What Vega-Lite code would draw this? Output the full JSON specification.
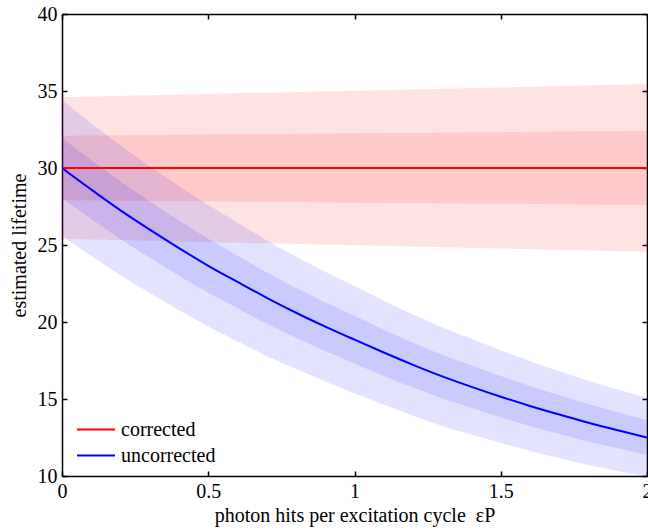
{
  "$schema": "https://vega.github.io/schema/vega-lite/v6.json",
  "width": 585,
  "height": 462,
  "autosize": {"type": "none"},
  "padding": {"left": 62, "top": 14, "right": 1, "bottom": 55},
  "background": "white",
  "config": {
    "font": "Liberation Serif, Times New Roman, serif",
    "view": {"stroke": null},
    "axis": {
      "grid": false,
      "domainColor": "black",
      "tickColor": "black",
      "labelColor": "black",
      "titleColor": "black",
      "labelFont": "Liberation Serif, Times New Roman, serif",
      "titleFont": "Liberation Serif, Times New Roman, serif",
      "labelFontSize": 20,
      "titleFontSize": 20,
      "titleFontWeight": "normal",
      "tickSize": -5,
      "domainWidth": 1.5,
      "tickWidth": 1.5,
      "labelFlush": false,
      "labelOverlap": false
    },
    "legend": {
      "labelFont": "Liberation Serif, Times New Roman, serif",
      "labelFontSize": 20,
      "labelColor": "black"
    }
  },
  "datasets": {
    "curves": [
      {"series": "corrected", "p": 0, "tau": 30, "lo1": 27.9, "hi1": 32.1, "lo2": 25.4, "hi2": 34.6},
      {"series": "corrected", "p": 1, "tau": 30, "lo1": 27.75, "hi1": 32.26, "lo2": 24.98, "hi2": 35.02},
      {"series": "corrected", "p": 2, "tau": 30, "lo1": 27.6, "hi1": 32.42, "lo2": 24.56, "hi2": 35.45},
      {"series": "uncorrected", "p": 0, "tau": 30, "lo1": 28.05, "hi1": 31.95, "lo2": 25.6, "hi2": 34.4},
      {"series": "uncorrected", "p": 0.1, "tau": 28.6, "lo1": 26.69, "hi1": 30.51, "lo2": 24.29, "hi2": 32.91},
      {"series": "uncorrected", "p": 0.2, "tau": 27.25, "lo1": 25.38, "hi1": 29.12, "lo2": 23.03, "hi2": 31.47},
      {"series": "uncorrected", "p": 0.3, "tau": 26.0, "lo1": 24.17, "hi1": 27.83, "lo2": 21.88, "hi2": 30.12},
      {"series": "uncorrected", "p": 0.4, "tau": 24.8, "lo1": 23.01, "hi1": 26.59, "lo2": 20.77, "hi2": 28.83},
      {"series": "uncorrected", "p": 0.5, "tau": 23.65, "lo1": 21.9, "hi1": 25.4, "lo2": 19.71, "hi2": 27.59},
      {"series": "uncorrected", "p": 0.6, "tau": 22.6, "lo1": 20.89, "hi1": 24.31, "lo2": 18.75, "hi2": 26.45},
      {"series": "uncorrected", "p": 0.7, "tau": 21.57, "lo1": 19.88, "hi1": 23.22, "lo2": 17.8, "hi2": 25.3},
      {"series": "uncorrected", "p": 0.8, "tau": 20.6, "lo1": 18.97, "hi1": 22.23, "lo2": 16.94, "hi2": 24.26},
      {"series": "uncorrected", "p": 0.9, "tau": 19.7, "lo1": 18.11, "hi1": 21.29, "lo2": 16.13, "hi2": 23.27},
      {"series": "uncorrected", "p": 1.0, "tau": 18.85, "lo1": 17.3, "hi1": 20.4, "lo2": 15.37, "hi2": 22.33},
      {"series": "uncorrected", "p": 1.1, "tau": 18.02, "lo1": 16.5, "hi1": 19.5, "lo2": 14.62, "hi2": 21.38},
      {"series": "uncorrected", "p": 1.2, "tau": 17.22, "lo1": 15.74, "hi1": 18.66, "lo2": 13.91, "hi2": 20.49},
      {"series": "uncorrected", "p": 1.3, "tau": 16.47, "lo1": 15.03, "hi1": 17.87, "lo2": 13.25, "hi2": 19.65},
      {"series": "uncorrected", "p": 1.4, "tau": 15.79, "lo1": 14.42, "hi1": 17.18, "lo2": 12.69, "hi2": 18.91},
      {"series": "uncorrected", "p": 1.5, "tau": 15.15, "lo1": 13.81, "hi1": 16.49, "lo2": 12.14, "hi2": 18.16},
      {"series": "uncorrected", "p": 1.6, "tau": 14.55, "lo1": 13.25, "hi1": 15.85, "lo2": 11.63, "hi2": 17.47},
      {"series": "uncorrected", "p": 1.7, "tau": 13.99, "lo1": 12.72, "hi1": 15.24, "lo2": 11.15, "hi2": 16.81},
      {"series": "uncorrected", "p": 1.8, "tau": 13.46, "lo1": 12.23, "hi1": 14.67, "lo2": 10.71, "hi2": 16.19},
      {"series": "uncorrected", "p": 1.9, "tau": 12.97, "lo1": 11.8, "hi1": 14.14, "lo2": 10.33, "hi2": 15.61},
      {"series": "uncorrected", "p": 2.0, "tau": 12.5, "lo1": 11.37, "hi1": 13.63, "lo2": 9.95, "hi2": 15.05}
    ]
  },
  "data": {"name": "curves"},
  "resolve": {"axis": {"x": "independent", "y": "independent"}},
  "layer": [
    {
      "transform": [{"filter": "datum.series === 'corrected'"}],
      "mark": {"type": "area", "color": "#ff0000", "opacity": 0.11, "clip": true},
      "encoding": {
        "x": {"field": "p", "type": "quantitative", "scale": {"domain": [0, 2], "nice": false, "zero": false},
              "axis": {"orient": "top", "labels": false, "title": null, "values": [0, 0.5, 1, 1.5, 2]}},
        "y": {"field": "lo2", "type": "quantitative", "scale": {"domain": [10, 40], "nice": false, "zero": false},
              "axis": {"orient": "right", "labels": false, "title": null, "values": [10, 15, 20, 25, 30, 35, 40]}},
        "y2": {"field": "hi2"}
      }
    },
    {
      "transform": [{"filter": "datum.series === 'corrected'"}],
      "mark": {"type": "area", "color": "#ff0000", "opacity": 0.11, "clip": true},
      "encoding": {
        "x": {"field": "p", "type": "quantitative", "axis": null},
        "y": {"field": "lo1", "type": "quantitative", "axis": null},
        "y2": {"field": "hi1"}
      }
    },
    {
      "transform": [{"filter": "datum.series === 'uncorrected'"}],
      "mark": {"type": "area", "color": "#0000ff", "opacity": 0.11, "clip": true, "interpolate": "monotone"},
      "encoding": {
        "x": {"field": "p", "type": "quantitative", "axis": null},
        "y": {"field": "lo2", "type": "quantitative", "axis": null},
        "y2": {"field": "hi2"}
      }
    },
    {
      "transform": [{"filter": "datum.series === 'uncorrected'"}],
      "mark": {"type": "area", "color": "#0000ff", "opacity": 0.11, "clip": true, "interpolate": "monotone"},
      "encoding": {
        "x": {"field": "p", "type": "quantitative", "axis": null},
        "y": {"field": "lo1", "type": "quantitative", "axis": null},
        "y2": {"field": "hi1"}
      }
    },
    {
      "mark": {"type": "line", "strokeWidth": 2, "clip": true, "interpolate": "monotone"},
      "encoding": {
        "x": {"field": "p", "type": "quantitative",
              "axis": {"orient": "bottom", "values": [0, 0.5, 1, 1.5, 2], "format": "~g", "labelPadding": 10,
                       "title": "photon hits per excitation cycle \u00a0εP", "titlePadding": 4}},
        "y": {"field": "tau", "type": "quantitative",
              "axis": {"orient": "left", "values": [10, 15, 20, 25, 30, 35, 40], "labelPadding": 10,
                       "title": "estimated lifetime", "titlePadding": 8}},
        "color": {"field": "series", "type": "nominal",
                  "scale": {"domain": ["corrected", "uncorrected"], "range": ["#ff0000", "#0000ff"]},
                  "legend": {"orient": "none", "legendX": 14, "legendY": 405, "title": null, "padding": 0,
                             "symbolType": "M-1,0H3", "symbolSize": 361, "symbolStrokeWidth": 2,
                             "labelOffset": 24, "rowPadding": 5}},
        "order": {"field": "p", "type": "quantitative"}
      }
    }
  ]
}
